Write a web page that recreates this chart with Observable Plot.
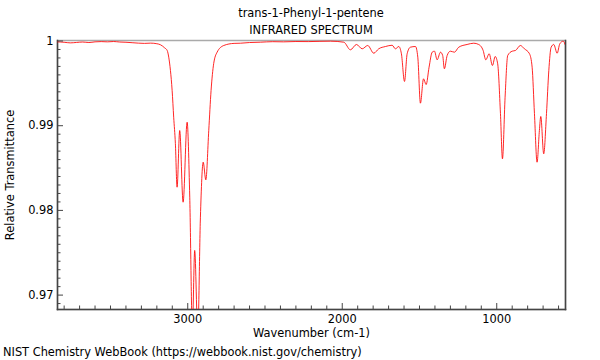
<!DOCTYPE html>
<html><head><meta charset="utf-8">
<script src="https://cdn.jsdelivr.net/npm/d3@7"></script>
<script src="https://cdn.jsdelivr.net/npm/@observablehq/plot@0.6"></script>
<style>
body{margin:0;background:#fff;font-family:"DejaVu Sans",sans-serif;}
#wrap{position:relative;width:600px;height:360px;overflow:hidden;background:#fff;}
#chart{position:absolute;left:0;top:0;}
.t{position:absolute;left:57px;width:508px;text-align:center;font-size:11.4px;line-height:14px;color:#000;}
#foot{position:absolute;left:3px;top:345px;font-size:11.4px;line-height:14px;color:#000;}
</style></head><body>
<div id="wrap">
<div id="chart"></div>
<div class="t" style="top:6px">trans-1-Phenyl-1-pentene</div>
<div class="t" style="top:23px">INFRARED SPECTRUM</div>
<div id="foot">NIST Chemistry WebBook (https://webbook.nist.gov/chemistry)</div>
</div>
<script>
const wavenumber = [3843,3800,3760,3720,3680,3640,3600,3560,3520,3480,3440,3400,3360,3320,3280,3240,3200,3176,3150,3133,3123,3112,3101,3091,3080,3069,3052,3030,3004,2987,2970,2955,2935,2918,2900,2883,2864,2849,2832,2810,2767,2700,2659,2600,2530,2450,2380,2300,2220,2150,2076,1990,1947,1908,1871,1835,1796,1764,1720,1677,1656,1634,1617,1597,1580,1559,1526,1511,1494,1474,1457,1438,1418,1403,1386,1364,1350,1339,1321,1300,1274,1246,1192,1149,1117,1088,1071,1049,1028,1010,994,976,963,946,929,900,879,847,821,788,771,756,739,724,715,696,678,663,648,631,609,592,570,555];
const transmittance = [0.99990,0.99985,0.99978,0.99983,0.99988,0.99982,0.99990,0.99993,0.99990,0.99994,0.99988,0.99985,0.99980,0.99975,0.99972,0.99975,0.99968,0.99955,0.99920,0.99888,0.99809,0.99652,0.99416,0.99100,0.98790,0.98274,0.98943,0.98097,0.99041,0.98156,0.96600,0.97527,0.96550,0.97920,0.98569,0.98361,0.98943,0.99416,0.99734,0.99868,0.99947,0.99972,0.99974,0.99982,0.99986,0.99992,0.99990,0.99994,0.99993,0.99996,0.99998,0.99986,0.99896,0.99959,0.99908,0.99947,0.99856,0.99908,0.99935,0.99950,0.99908,0.99935,0.99849,0.99522,0.99849,0.99927,0.99935,0.99809,0.99266,0.99554,0.99486,0.99691,0.99868,0.99880,0.99778,0.99868,0.99829,0.99672,0.99829,0.99880,0.99868,0.99927,0.99959,0.99974,0.99959,0.99888,0.99778,0.99849,0.99711,0.99817,0.99731,0.99144,0.98609,0.99336,0.99829,0.99880,0.99888,0.99947,0.99908,0.99849,0.99691,0.99144,0.98569,0.98943,0.99109,0.98668,0.99144,0.99652,0.99927,0.99959,0.99856,0.99967,0.99998,0.99947];
const xMajorTicks = [3000, 2000, 1000];
const xTickLabels = ["3000", "2000", "1000"];
const yMajorTicks = [0.97, 0.98, 0.99, 1];
const yTickLabels = ["0.97", "0.98", "0.99", "1"];
const xMinorTicks = d3.range(600, 3900, 100).filter(v => !xMajorTicks.includes(v));
const yMinorTicks = d3.range(969, 1000).map(v => v / 1000).filter(v => !yMajorTicks.some(m => Math.abs(m - v) < 1e-9));
const xDomain = [3843, 555];
const yDomain = [0.9683, 1.00006];

const data = wavenumber.map((w, i) => ({w, t: transmittance[i]}));

const plot = Plot.plot({
  width: 600, height: 360,
  marginLeft: 57, marginRight: 35, marginTop: 40, marginBottom: 51,
  style: {fontFamily: "DejaVu Sans", fontSize: "11.4px", color: "#000", background: "#fff"},
  x: {domain: xDomain, label: null},
  y: {domain: yDomain, label: null},
  marks: [
    Plot.frame({stroke: "#aaa", strokeWidth: 1.5}),
    Plot.frame({anchor: "left", stroke: "#444", strokeWidth: 1.5}),
    Plot.frame({anchor: "bottom", stroke: "#444", strokeWidth: 1.5}),
    Plot.frame({anchor: "right", stroke: "#444", strokeWidth: 1.5}),
    Plot.line(data, {x: "w", y: "t", stroke: "#ff0000", strokeWidth: 0.85, curve: "monotone-x", clip: true}),
    Plot.axisX({ticks: xMajorTicks, tickSize: -6, tickFormat: () => "", label: null, stroke: "#444"}),
    Plot.axisX({ticks: xMinorTicks, tickSize: -3.5, tickFormat: () => "", label: null, stroke: "#444"}),
    Plot.axisX({ticks: xMajorTicks, tickSize: 0, tickPadding: 5, tickFormat: d => xTickLabels[xMajorTicks.indexOf(d)], label: null}),
    Plot.axisY({ticks: yMajorTicks, tickSize: -6, tickFormat: () => "", label: null, stroke: "#444"}),
    Plot.axisY({ticks: yMinorTicks, tickSize: -3.5, tickFormat: () => "", label: null, stroke: "#444"}),
    Plot.axisY({ticks: yMajorTicks, tickSize: 0, tickPadding: 4, tickFormat: d => yTickLabels[yMajorTicks.indexOf(d)], label: null}),
    Plot.text(["Wavenumber (cm-1)"], {frameAnchor: "bottom", dy: 24, lineAnchor: "middle", textAnchor: "middle", fontSize: 11.4}),
    Plot.text(["Relative Transmittance"], {frameAnchor: "left", rotate: -90, dx: -47, lineAnchor: "middle", textAnchor: "middle", fontSize: 11.4})
  ]
});
document.getElementById("chart").appendChild(plot);
</script>
</body></html>
